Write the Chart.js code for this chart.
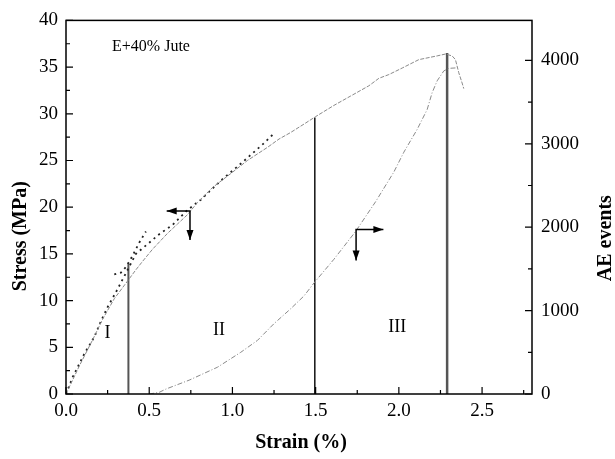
<!DOCTYPE html>
<html>
<head>
<meta charset="utf-8">
<script src="https://cdn.jsdelivr.net/npm/chart.js@4.4.1/dist/chart.umd.min.js"></script>
<style>
  html,body{margin:0;padding:0;background:#fff;}
  #wrap{width:615px;height:459px;}
</style>
</head>
<body>
<div id="wrap"><canvas id="c" width="615" height="459"></canvas></div>
<script>
/* ---- DATA ---- */
// main stress-strain curve (grey)
const stressStrain = [0,0.08,0.16,0.22,0.29,0.37,0.42,0.46,0.52,0.61,0.67,0.73,0.79,0.88,0.99,1.09,1.21,1.28,1.35,1.43,1.50,1.61,1.71,1.82,1.88,1.94,2.02,2.12,2.23,2.28,2.32,2.34,2.36,2.38,2.39];
const stressMPa    = [0,3.0,5.8,8.0,10.2,12.1,13.3,14.2,15.5,17.2,18.2,19.2,20.5,22.1,23.6,25.0,26.4,27.3,28.0,28.9,29.7,30.9,31.9,33.0,33.8,34.2,34.9,35.8,36.2,36.4,36.2,35.8,34.4,33.3,32.7];

// dotted fits (black)
const fitAStrain = [0.29,0.33,0.36,0.40,0.44,0.48];
const fitAMPa    = [12.8,13.0,13.6,14.8,16.2,17.4];
const fitBStrain = [0,0.04,0.11,0.17,0.21,0.25,0.30,0.35,0.42,0.50,0.56,0.64,0.73,0.81,0.88,0.94,1.04,1.11,1.18,1.25];
const fitBMPa    = [0,1.8,4.3,6.1,7.8,9.3,10.9,12.6,15.0,16.2,17.1,18.1,19.7,20.8,22.0,23.0,24.5,25.6,26.7,27.9];

// cumulative AE events (right axis)
const aeStrain = [0.50,0.56,0.60,0.74,0.91,1.05,1.15,1.25,1.35,1.43,1.49,1.61,1.74,1.86,1.97,2.03,2.11,2.17,2.20,2.23,2.27,2.30,2.34];
const aeEvents = [0,20,59,166,321,500,642,844,1022,1176,1331,1616,1949,2305,2662,2900,3173,3411,3613,3755,3874,3905,3910];

// stage boundaries (strain, top stress)
const stageStrain = [0.375,1.495,2.29];
const stageTop    = [14.0,29.6,36.5];
const stageNames  = ["I","II","III"];
const stageNameAt = [[0.25,6.5],[0.92,6.8],[1.99,7.1]];

// axis pointers: [corner strain, corner stress, horizontal tip strain, vertical tip stress]
const pointers = [[0.745,19.6,0.605,16.5],[1.743,17.6,1.907,14.3]];

const xTicks = [0,0.5,1.0,1.5,2.0,2.5];
const yTicks = [0,5,10,15,20,25,30,35,40];
const aeTicks = [0,1000,2000,3000,4000];

const serif = "'Liberation Serif','Times New Roman',serif";

function pts(xs, ys){ return xs.map((x,i)=>({x, y:ys[i]})); }

const datasets = [
  {label:"stress", data:pts(stressStrain,stressMPa), yAxisID:"y", borderColor:"#8a8a8a", borderWidth:1, borderDash:[4,1.5]},
  {label:"fitA", data:pts(fitAStrain,fitAMPa), yAxisID:"y", borderColor:"#222", borderWidth:1.8, borderDash:[2,4]},
  {label:"fitB", data:pts(fitBStrain,fitBMPa), yAxisID:"y", borderColor:"#222", borderWidth:1.8, borderDash:[2,4]},
  {label:"AE", data:pts(aeStrain,aeEvents), yAxisID:"y1", borderColor:"#8a8a8a", borderWidth:1, borderDash:[5,2,1,2]},
];
const stageColors = ["#555","#111","#555"], stageWidths = [2,1.5,2.5];
stageStrain.forEach((s,i)=>{
  datasets.push({label:"stage"+i, data:[{x:s,y:0},{x:s,y:stageTop[i]}], yAxisID:"y",
    borderColor:stageColors[i], borderWidth:stageWidths[i]});
});
datasets.forEach(d=>{ d.pointRadius=0; d.fill=false; d.tension=0; });

function arrowHead(ctx, x, y, dx, dy){
  const L=10, W=3.5, len=Math.hypot(dx,dy), ux=dx/len, uy=dy/len;
  ctx.beginPath();
  ctx.moveTo(x,y);
  ctx.lineTo(x-ux*L-uy*W, y-uy*L+ux*W);
  ctx.lineTo(x-ux*L+uy*W, y-uy*L-ux*W);
  ctx.closePath(); ctx.fill();
}

// frame, inward ticks, titles and annotations
const decor = {
  id:"decor",
  afterDraw(chart){
    const {ctx, chartArea:a, scales:{x, y, y1}} = chart;
    ctx.save();
    ctx.strokeStyle="#000"; ctx.fillStyle="#000"; ctx.lineWidth=1.5;
    ctx.strokeRect(a.left, a.top, a.right-a.left, a.bottom-a.top);

    ctx.lineWidth=1.2; ctx.beginPath();
    for(let v=0; v<=2.8001; v+=0.25){
      const px=x.getPixelForValue(v), len = Math.abs(v/0.5-Math.round(v/0.5))<1e-6 ? 7 : 4;
      ctx.moveTo(px,a.bottom); ctx.lineTo(px,a.bottom-len);
    }
    for(let v=0; v<=40; v+=2.5){
      const py=y.getPixelForValue(v), len = v%5===0 ? 7 : 4;
      ctx.moveTo(a.left,py); ctx.lineTo(a.left+len,py);
    }
    for(let v=0; v<=4400; v+=500){
      const py=y1.getPixelForValue(v), len = v%1000===0 ? 7 : 4;
      ctx.moveTo(a.right,py); ctx.lineTo(a.right-len,py);
    }
    ctx.stroke();

    // pointers
    ctx.lineWidth=1.5;
    pointers.forEach(p=>{
      const cx=x.getPixelForValue(p[0]), cy=y.getPixelForValue(p[1]);
      const hx=x.getPixelForValue(p[2]), vy=y.getPixelForValue(p[3]);
      ctx.beginPath(); ctx.moveTo(hx,cy); ctx.lineTo(cx,cy); ctx.lineTo(cx,vy); ctx.stroke();
      arrowHead(ctx,hx,cy,hx-cx,0);
      arrowHead(ctx,cx,vy,0,vy-cy);
    });

    // texts
    ctx.textAlign="center"; ctx.textBaseline="middle";
    ctx.font="16px "+serif;
    ctx.fillText("E+40% Jute", 151, 47);
    ctx.font="18px "+serif;
    stageNames.forEach((n,i)=>{
      ctx.fillText(n, x.getPixelForValue(stageNameAt[i][0]), y.getPixelForValue(stageNameAt[i][1]));
    });
    ctx.font="bold 20px "+serif;
    ctx.fillText("Strain (%)", (a.left+a.right)/2+2, 443);
    ctx.save(); ctx.translate(21,(a.top+a.bottom)/2+29); ctx.rotate(-Math.PI/2);
    ctx.fillText("Stress (MPa)",0,0); ctx.restore();
    ctx.save(); ctx.translate(606,(a.top+a.bottom)/2+31); ctx.rotate(-Math.PI/2);
    ctx.fillText("AE events",0,0); ctx.restore();
    ctx.restore();
  }
};

const tickFont = {family:"Liberation Serif", size:19};
new Chart(document.getElementById("c"), {
  type:"line",
  data:{datasets},
  options:{
    responsive:false, animation:false,
    layout:{padding:{top:16,left:0,right:0,bottom:0}},
    plugins:{legend:{display:false}, tooltip:{enabled:false}},
    scales:{
      x:{type:"linear", min:0, max:2.8,
        grid:{display:false, drawTicks:false}, border:{display:false},
        afterBuildTicks:s=>{ s.ticks = xTicks.map(v=>({value:v})); },
        afterFit:s=>{ s.height=65; },
        ticks:{font:tickFont, color:"#000", padding:6, maxRotation:0, callback:v=>v.toFixed(1)}},
      y:{type:"linear", position:"left", min:0, max:40,
        grid:{display:false, drawTicks:false}, border:{display:false},
        afterBuildTicks:s=>{ s.ticks = yTicks.map(v=>({value:v})); },
        afterFit:s=>{ s.width=66; },
        ticks:{font:tickFont, color:"#000", padding:8}},
      y1:{type:"linear", position:"right", min:0, max:4480,
        grid:{display:false, drawTicks:false}, border:{display:false},
        afterBuildTicks:s=>{ s.ticks = aeTicks.map(v=>({value:v})); },
        afterFit:s=>{ s.width=83; },
        ticks:{font:tickFont, color:"#000", padding:9, callback:v=>String(v)}}
    }
  },
  plugins:[decor]
});
</script>
</body>
</html>
